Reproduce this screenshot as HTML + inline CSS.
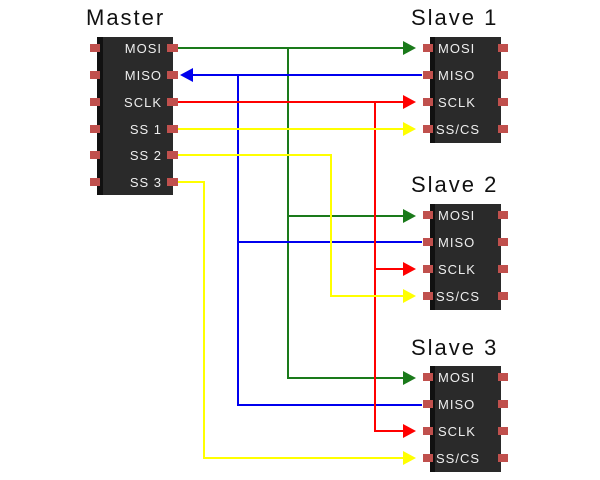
<!DOCTYPE html>
<html><head><style>body{margin:0;background:#fff}svg{display:block}text{font-family:"Liberation Sans",sans-serif}</style></head><body>
<svg width="600" height="480" viewBox="0 0 600 480" xmlns="http://www.w3.org/2000/svg">
<defs>
<g id="pin"><rect x="0" y="-4" width="10" height="8" fill="#c0504d"/></g>
</defs>
<text x="86" y="25" font-size="22" letter-spacing="2" fill="#111">Master</text>
<text x="411" y="25" font-size="22" letter-spacing="2" fill="#111">Slave 1</text>
<text x="411" y="192" font-size="22" letter-spacing="2" fill="#111">Slave 2</text>
<text x="411" y="355" font-size="22" letter-spacing="2" fill="#111">Slave 3</text>
<!-- master -->
<rect x="97" y="37" width="76" height="158" fill="#2a2a2a"/>
<rect x="97" y="37" width="6" height="158" fill="#111"/>
<g fill="#c0504d">
<rect x="90" y="44" width="10" height="8"/><rect x="90" y="71" width="10" height="8"/><rect x="90" y="98" width="10" height="8"/><rect x="90" y="125" width="10" height="8"/><rect x="90" y="151" width="10" height="8"/><rect x="90" y="178" width="10" height="8"/>
<rect x="167" y="44" width="11" height="8"/><rect x="167" y="71" width="11" height="8"/><rect x="167" y="98" width="11" height="8"/><rect x="167" y="125" width="11" height="8"/><rect x="167" y="151" width="11" height="8"/><rect x="167" y="178" width="11" height="8"/>
</g>
<g fill="#eee" font-size="13" text-anchor="end" letter-spacing="1">
<text x="162" y="53">MOSI</text><text x="162" y="80">MISO</text><text x="162" y="107">SCLK</text><text x="162" y="134">SS 1</text><text x="162" y="160">SS 2</text><text x="162" y="187">SS 3</text>
</g>
<!-- slaves -->
<g id="s1">
<rect x="430" y="37" width="71" height="106" fill="#2a2a2a"/>
<rect x="430" y="37" width="5" height="106" fill="#111"/>
<g fill="#c0504d">
<rect x="423" y="44" width="10" height="8"/><rect x="423" y="71" width="10" height="8"/><rect x="423" y="98" width="10" height="8"/><rect x="423" y="125" width="10" height="8"/>
<rect x="498" y="44" width="10" height="8"/><rect x="498" y="71" width="10" height="8"/><rect x="498" y="98" width="10" height="8"/><rect x="498" y="125" width="10" height="8"/>
</g>
<g fill="#eee" font-size="13" letter-spacing="1">
<text x="438" y="53">MOSI</text><text x="438" y="80">MISO</text><text x="438" y="107">SCLK</text><text x="436" y="134">SS/CS</text>
</g>
</g>
<use href="#s1" y="167"/>
<use href="#s1" y="329"/>
<!-- wires -->
<g fill="none" stroke-width="2">
<path d="M178 48H405M288 48V378H405M288 216H405" stroke="#1a7a1a"/>
<path d="M190 75H422M238 75V405H422M238 242H422" stroke="#0000ee"/>
<path d="M178 102H405M375 102V431H405M375 269H405" stroke="#ff0000"/>
<path d="M178 129H405M178 155H331V296H405M178 182H204V458H405" stroke="#ffff00"/>
</g>
<g>
<path d="M416 48l-13-7v14z" fill="#1a7a1a"/><path d="M416 216l-13-7v14z" fill="#1a7a1a"/><path d="M416 378l-13-7v14z" fill="#1a7a1a"/>
<path d="M180 75l13-7v14z" fill="#0000ee"/>
<path d="M416 102l-13-7v14z" fill="#ff0000"/><path d="M416 269l-13-7v14z" fill="#ff0000"/><path d="M416 431l-13-7v14z" fill="#ff0000"/>
<path d="M416 129l-13-7v14z" fill="#ffff00"/><path d="M416 296l-13-7v14z" fill="#ffff00"/><path d="M416 458l-13-7v14z" fill="#ffff00"/>
</g>
</svg>
</body></html>
